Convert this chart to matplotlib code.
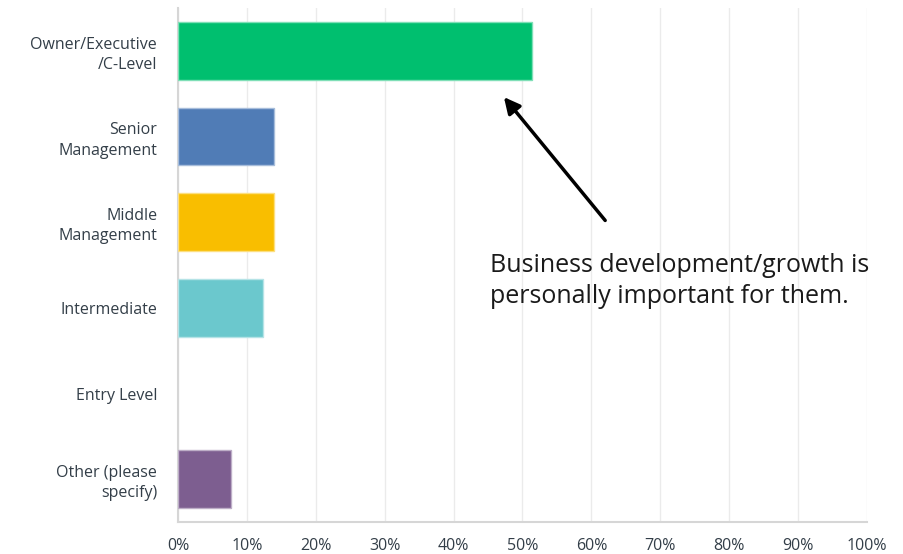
import matplotlib.pyplot as plt

# Survey answers (percent of respondents)
categories = ['Owner/Executive\n/C-Level', 'Senior\nManagement', 'Middle\nManagement',
              'Intermediate', 'Entry Level', 'Other (please\nspecify)']
percent = [51.4, 13.9, 13.9, 12.4, 0.0, 7.7]
bar_colors = ['#00BF6F', '#507CB6', '#F9BE00', '#6BC8CD', '#6BC8CD', '#7D5E90']
edge_colors = ['#7fdfb7', '#a7bddb', '#fcdf80', '#b5e3e6', '#b5e3e6', '#bdaec7']
xticks = list(range(0, 101, 10))
note = 'Business development/growth is\npersonally important for them.'

fig = plt.figure(figsize=(9.04, 5.54), dpi=100)
ax = fig.add_axes([178 / 904, 32 / 554, 689 / 904, 514 / 554])

ax.barh(range(len(categories)), percent, height=0.67, color=bar_colors,
        edgecolor=edge_colors, linewidth=[1 if v > 0 else 0 for v in percent],
        zorder=3)

ax.set_xlim(0, 100)
ax.set_ylim(5.5, -0.5)
ax.set_xticks(xticks)
ax.set_xticklabels([f'{t}%' for t in xticks], fontfamily='Open Sans',
                   fontsize=11.5, color='#333e48')
ax.set_yticks(range(len(categories)))
ax.set_yticklabels(categories, fontfamily='Open Sans', fontsize=11.5,
                   color='#333e48', linespacing=1.35)
ax.tick_params(axis='both', length=0)
ax.tick_params(axis='x', pad=11.5)
ax.tick_params(axis='y', pad=15)

ax.grid(axis='x', color='#ebebeb', linewidth=1, zorder=0)
for side in ['top', 'right']:
    ax.spines[side].set_visible(False)
for side in ['left', 'bottom']:
    ax.spines[side].set_color('#d6d6d6')
    ax.spines[side].set_linewidth(1.5)

# annotation with arrow pointing at the top bar
ax.annotate('', xy=(47.3, 0.54), xytext=(62, 1.98),
            arrowprops=dict(arrowstyle='-|>', color='black', lw=2.5,
                            mutation_scale=24, shrinkA=0, shrinkB=0))
ax.text(45.3, 2.36, note, fontfamily='Open Sans', fontsize=18,
        color='#1a1a1a', va='top', ha='left', linespacing=1.32, zorder=5)

fig.savefig('out.png', dpi=100, facecolor='white')
